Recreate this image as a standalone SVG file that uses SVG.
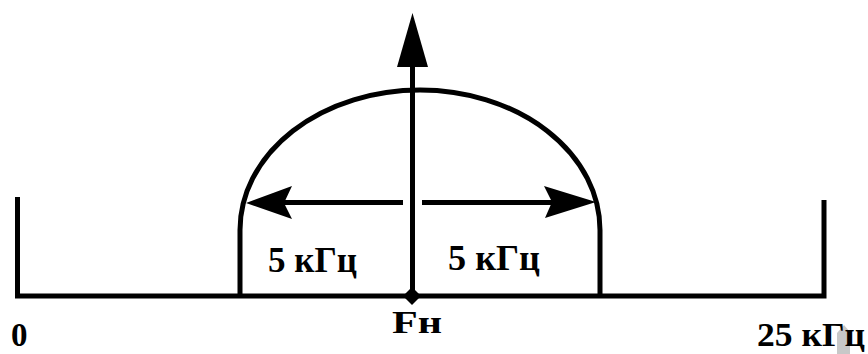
<svg xmlns="http://www.w3.org/2000/svg" width="868" height="354" viewBox="0 0 868 354">
<style>
.ln{fill:none;stroke:#000;stroke-width:5;stroke-linecap:butt;stroke-linejoin:miter}
.hd{fill:#000;stroke:none}
.t{font-family:"Liberation Serif","Times New Roman",serif;font-weight:bold;fill:#000}
</style>
<rect width="868" height="354" fill="#fff"/>
<g id="axis">
<path class="ln" d="M17.5,197 L17.5,296 L824,296 L824,200"/>
</g>
<g id="band">
<path class="ln" d="M240,296 L240,230 A180,140 0 0 1 600,230 L600,296"/>
</g>
<g id="connectors">
<line class="ln" x1="412.5" y1="64" x2="412.5" y2="296" stroke-width="4.5"/>
<polygon class="hd" points="412.5,13 428,67 397,67"/>
<line class="ln" x1="284" y1="202.5" x2="403" y2="202.5"/>
<polygon class="hd" points="246,203 292,186 284,203 292,219"/>
<line class="ln" x1="422" y1="202.5" x2="554" y2="202.5"/>
<polygon class="hd" points="596,202 544,186 552,202 545,218"/>
</g>
<g id="fn-point">
<polygon class="hd" points="412,287 421,296 412,305 403,296"/>
</g>
<g id="labels">
<polygon fill="#c8c8c8" points="837,333 844,325 850,332 850,354 837,354"/>
<text class="t" x="268" y="272" font-size="35" textLength="89" lengthAdjust="spacingAndGlyphs">5 кГц</text>
<text class="t" x="448" y="270" font-size="35" textLength="92" lengthAdjust="spacingAndGlyphs">5 кГц</text>
<text class="t" x="11" y="346" font-size="33">0</text>
<text class="t" x="392" y="333" font-size="32" textLength="50" lengthAdjust="spacingAndGlyphs">Fн</text>
<text class="t" x="757" y="346" font-size="33" textLength="108" lengthAdjust="spacingAndGlyphs">25 кГц</text>
</g>
</svg>
